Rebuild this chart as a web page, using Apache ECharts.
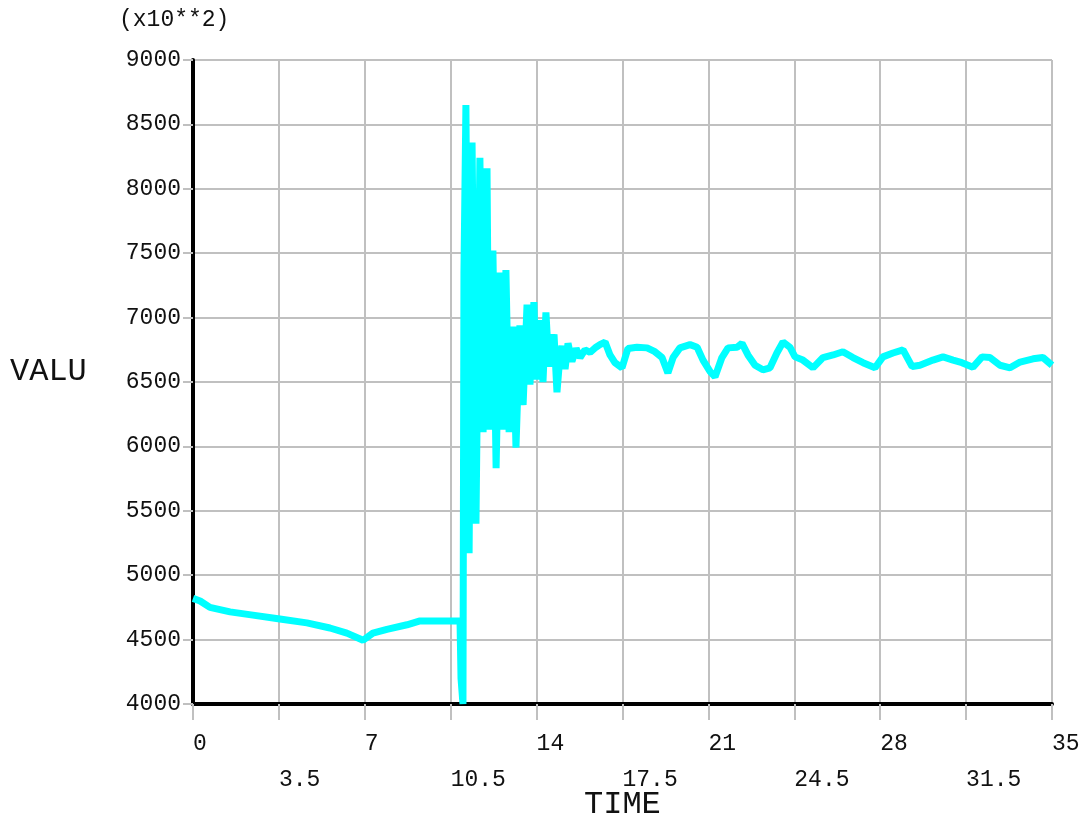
<!DOCTYPE html>
<html>
<head>
<meta charset="utf-8">
<script src="https://cdn.jsdelivr.net/npm/echarts@6/dist/echarts.min.js"></script>
<style>html,body{margin:0;padding:0;background:#fff}#c{width:1091px;height:820px}</style>
</head>
<body>
<div id="c"></div>
<script>
// Pre-event segment
var preTime  = [0, 0.29, 0.69, 1.51, 2.44, 3.54, 4.64, 5.58, 6.27, 6.93, 7.33, 7.9, 8.72, 9.25, 10.88];
var preValue = [4820, 4800, 4750, 4715, 4690, 4660, 4630, 4590, 4550, 4495, 4550, 4580, 4615, 4645, 4645];
// Oscillation segment
var oscTime  = [10.92, 11.0, 11.04, 11.12, 11.25, 11.37, 11.53, 11.69, 11.82, 11.98, 12.06, 12.22, 12.35, 12.51, 12.63, 12.75, 12.88, 13.04, 13.16, 13.32, 13.45, 13.61, 13.73, 13.89, 13.98, 14.14, 14.26, 14.38, 14.5, 14.71, 14.83, 14.95];
var oscValue = [4200, 4000, 7350, 8650, 5170, 8360, 5400, 8240, 6110, 8160, 6130, 7520, 5830, 7350, 6130, 7370, 6110, 6930, 5990, 6940, 6320, 7100, 6480, 7120, 6520, 6980, 6500, 7040, 6620, 6870, 6420, 6700];
// Settled segment
var setTime  = [15.03, 15.16, 15.28, 15.44, 15.61, 15.77, 15.97, 16.18, 16.42, 16.58, 16.79, 16.99, 17.19, 17.48, 17.72, 18.09, 18.5, 18.82, 19.11, 19.35, 19.56, 19.84, 20.25, 20.54, 20.78, 21.07, 21.27, 21.55, 21.8, 22.17, 22.37, 22.61, 22.9, 23.22, 23.51, 23.79, 24.04, 24.32, 24.53, 24.85, 25.26, 25.67, 26.08, 26.48, 26.89, 27.3, 27.79, 28.11, 28.52, 28.93, 29.3, 29.62, 30.15, 30.56, 30.97, 31.33, 31.78, 32.15, 32.47, 32.88, 33.29, 33.7, 34.23, 34.63, 35];
var setValue = [6780, 6600, 6800, 6660, 6760, 6690, 6750, 6730, 6770, 6790, 6810, 6710, 6650, 6610, 6760, 6770, 6765, 6735, 6690, 6570, 6690, 6765, 6790, 6770, 6670, 6580, 6540, 6690, 6765, 6770, 6800, 6710, 6630, 6595, 6610, 6725, 6810, 6770, 6695, 6670, 6610, 6690, 6710, 6735, 6690, 6650, 6610, 6695, 6725, 6750, 6620, 6630, 6670, 6695, 6670, 6650, 6615, 6695, 6690, 6630, 6610, 6655, 6680, 6690, 6630];

var times = preTime.concat(oscTime, setTime);
var values = preValue.concat(oscValue, setValue);
var data = times.map(function (t, i) { return [t, values[i]]; });

var FONT = 'Liberation Mono';
var chart = echarts.init(document.getElementById('c'), null, {renderer: 'canvas'});
chart.setOption({
  animation: false,
  backgroundColor: '#ffffff',
  grid: {left: 193, right: 39, top: 60, bottom: 116, containLabel: false},
  xAxis: {
    type: 'value', min: 0, max: 35, interval: 3.5,
    axisLine: {show: true, onZero: false, lineStyle: {color: '#000', width: 4}},
    axisTick: {show: true, length: 16, lineStyle: {color: '#c0c0c0', width: 2}},
    splitLine: {show: true, lineStyle: {color: '#c0c0c0', width: 2}},
    axisLabel: {
      show: true, margin: 22, align: 'left', verticalAlign: 'top',
      fontFamily: FONT, fontSize: 23, color: '#111', lineHeight: 36,
      formatter: function (v) {
        var k = Math.round(v / 3.5);
        var s = (Math.round(v * 10) / 10).toString();
        return (k % 2 === 1) ? '\n' + s : s;
      }
    }
  },
  yAxis: {
    type: 'value', min: 4000, max: 9000, interval: 500,
    axisLine: {show: true, onZero: false, lineStyle: {color: '#000', width: 4}},
    axisTick: {show: true, length: 10, lineStyle: {color: '#c0c0c0', width: 2}},
    splitLine: {show: true, lineStyle: {color: '#c0c0c0', width: 2}},
    axisLabel: {
      show: true, margin: 12, fontFamily: FONT, fontSize: 23, color: '#111',
      formatter: function (v) { return String(v); }
    }
  },
  graphic: [
    {type: 'text', left: 119, top: 8, style: {text: '(x10**2)', font: '23px "Liberation Mono"', fill: '#111'}},
    {type: 'text', left: 10, top: 356, style: {text: 'VALU', font: '32px "Liberation Mono"', fill: '#111'}},
    {type: 'text', left: 584, top: 789, style: {text: 'TIME', font: '32px "Liberation Mono"', fill: '#111'}}
  ],
  series: [{
    type: 'line', data: data, showSymbol: false, symbol: 'none',
    lineStyle: {color: '#00ffff', width: 7, join: 'bevel', cap: 'butt'}, z: 3
  }]
});
</script>
</body>
</html>
